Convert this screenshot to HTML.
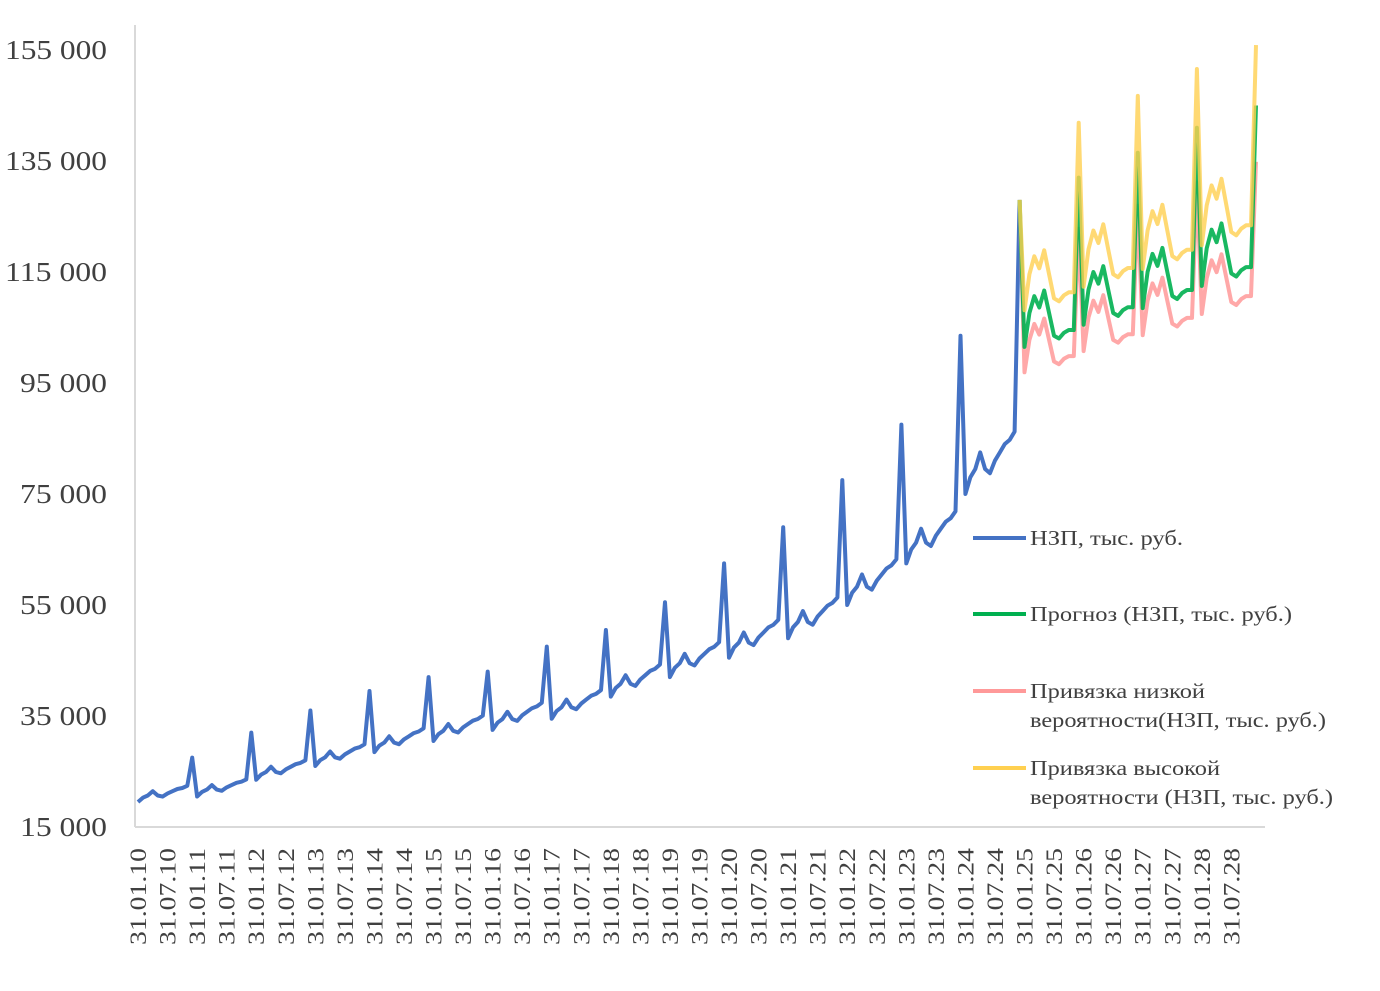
<!DOCTYPE html>
<html><head><meta charset="utf-8"><style>
body{margin:0;background:#fff;}
svg{display:block;font-family:"Liberation Serif",serif;}
</style></head><body>
<svg id="s" width="1380" height="991" viewBox="0 0 1380 991" xmlns="http://www.w3.org/2000/svg">
<line x1="135" y1="25" x2="135" y2="827" stroke="#d9d9d9" stroke-width="2"/>
<line x1="135" y1="827" x2="1265" y2="827" stroke="#d9d9d9" stroke-width="2"/>
<g id="yl" font-size="27" fill="#404040"></g>
<g id="xl" font-size="23" fill="#404040"></g>
<g id="ser" fill="none" stroke-width="4" stroke-linejoin="round"></g>
<g font-size="21" fill="#404040" lengthAdjust="spacingAndGlyphs">
<line x1="973" y1="538" x2="1026" y2="538" stroke="#4472c4" stroke-width="4"/>
<text x="1030" y="545" textLength="153" lengthAdjust="spacingAndGlyphs">НЗП, тыс. руб.</text>
<line x1="973" y1="614" x2="1026" y2="614" stroke="#00b050" stroke-width="4"/>
<text x="1030" y="621" textLength="262" lengthAdjust="spacingAndGlyphs">Прогноз (НЗП, тыс. руб.)</text>
<line x1="973" y1="691" x2="1026" y2="691" stroke="#ff9999" stroke-width="4"/>
<text x="1030" y="698" textLength="175" lengthAdjust="spacingAndGlyphs">Привязка низкой</text>
<text x="1030" y="727" textLength="296" lengthAdjust="spacingAndGlyphs">вероятности(НЗП, тыс. руб.)</text>
<line x1="973" y1="768" x2="1026" y2="768" stroke="#ffd050" stroke-width="4"/>
<text x="1030" y="775" textLength="190" lengthAdjust="spacingAndGlyphs">Привязка высокой</text>
<text x="1030" y="804" textLength="303" lengthAdjust="spacingAndGlyphs">вероятности (НЗП, тыс. руб.)</text>
</g>
</svg>
<script>
var NS="http://www.w3.org/2000/svg";
function Y(v){return 827-(v-15)*5.55;}
function X(m){return 138+m*4.925;}
var yl=document.getElementById('yl');
for(var v=15;v<=155;v+=20){var t=document.createElementNS(NS,'text');t.setAttribute('x',v>=100?5:20);t.setAttribute('y',Y(v)+9);var w=v>=100?102:87;t.setAttribute('textLength',w);t.setAttribute('lengthAdjust','spacingAndGlyphs');t.textContent=v+' 000';yl.appendChild(t);}
var xl=document.getElementById('xl');
for(var i=0;i<38;i++){var yr=10+Math.floor(i/2);var lab='31.'+(i%2?'07':'01')+'.'+yr;var x=X(i*6)+8;
var t=document.createElementNS(NS,'text');t.setAttribute('transform','translate('+x+',945) rotate(-90)');t.setAttribute('textLength',97);t.setAttribute('lengthAdjust','spacingAndGlyphs');t.textContent=lab;xl.appendChild(t);}
var base=[19.5,20.5,23.5,26,28.5,30.5,32.5,34.5,38.5,42,45.5,49,55,62.5,75];
var spike=[27.5,32,36,39.5,42,43,47.5,50.5,55.5,62.5,69,77.5,87.5,103.5,128];
var pat=[1,1.04,1.06,1.1,1.06,1.05,1.08,1.1,1.12,1.13,1.15];
var blue=[];
for(var y=0;y<15;y++){for(var m=0;m<11;m++){blue.push([X(y*12+m),Y(base[y]*pat[m])]);}blue.push([X(y*12+11),Y(spike[y])]);}
function poly(pts,col,op){var p=document.createElementNS(NS,'polyline');p.setAttribute('points',pts.map(function(a){return a[0].toFixed(1)+','+a[1].toFixed(1)}).join(' '));p.setAttribute('stroke',col);if(op)p.setAttribute('stroke-opacity',op);document.getElementById('ser').appendChild(p);}
poly(blue,'#4472c4');
var gb=[101.5,105.5,108.5,112.5],gs=[132,136.5,141,145];
function fc(f,sf){var pts=[[X(179),Y(128)]];var pt=[1,1.06,1.09,1.07,1.10,1.06,1.02,1.015,1.025,1.03,1.03];for(var y=0;y<4;y++){for(var m=0;m<11;m++)pts.push([X(180+y*12+m),Y(gb[y]*pt[m]*f)]);pts.push([X(180+y*12+11),Y(gs[y]*sf)]);}return pts;}
poly(fc(0.955,0.93),'#ff9999',0.85);
poly(fc(1,1),'#00b050',0.9);
poly(fc(1.065,1.075),'#ffd050',0.8);
</script>
</body></html>
